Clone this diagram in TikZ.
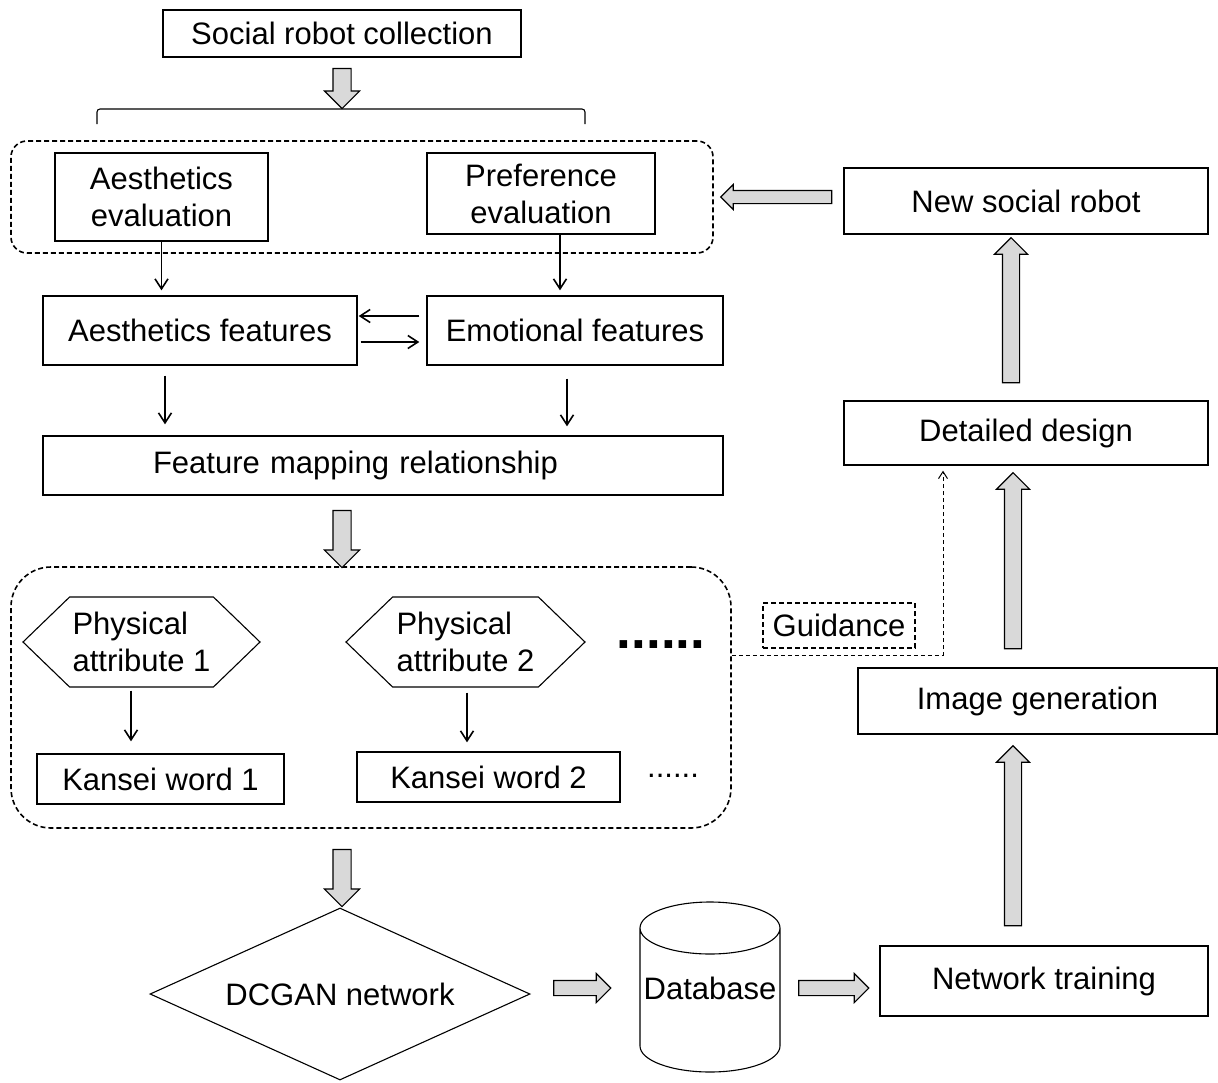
\documentclass[tikz,border=0pt]{standalone}
\usepackage{fontspec}
\setmainfont{Liberation Sans}
\usetikzlibrary{shapes.geometric,shapes.symbols,shapes.arrows,arrows.meta}

\begin{document}
\begin{tikzpicture}[x=1pt,y=-1pt,
    every node/.style={font=\fontsize{31}{37}\selectfont},
    box/.style={draw, line width=1.4pt, inner sep=0pt, align=center},
    grp/.style={draw, line width=1.6pt, dash pattern=on 5pt off 3pt, inner sep=0pt},
    hexa/.style={signal, signal to=west and east, signal pointer angle=88, draw, line width=1.1pt, inner sep=0pt, align=left},
    flow/.style={line width=1.6pt, -{Straight Barb[length=10pt,width=13pt]}},
    guide/.style={line width=1pt, dash pattern=on 4pt off 3pt, -{Straight Barb[length=7pt,width=9pt]}},
    garrow/.style 2 args={single arrow, draw, line width=1.1pt, fill=gray!30, inner xsep=0pt, inner ysep=#1,
        single arrow head extend=#1, single arrow head indent=0pt, minimum width=0pt, minimum height=#2},
    dbend/.style={x radius=70pt, y radius=26pt}]
    \useasboundingbox (0,0) rectangle (1218,1082);

    % dashed groups
    \node[grp, rounded corners=16pt, minimum width=702pt, minimum height=112pt] (eval) at (362,197) {};
    \node[grp, rounded corners=40pt, minimum width=720pt, minimum height=261pt] (attr) at (371,697.5) {};

    % left column
    \node[box, minimum width=358pt, minimum height=47pt] (src) at (342,33.5) {Social robot collection};
    \draw[line width=1.1pt, rounded corners=3pt] (97,124) -- (97,109) -- (585,109) -- (585,124);
    \node[box, minimum width=213pt, minimum height=88pt] (ae) at (161.5,197) {Aesthetics\\evaluation};
    \node[box, minimum width=228pt, minimum height=81pt] (pe) at (541,193.5) {Preference\\evaluation};
    \node[box, minimum width=314pt, minimum height=69pt] (af) at (200,330.5) {Aesthetics features};
    \node[box, minimum width=296pt, minimum height=69pt] (ef) at (575,330.5) {Emotional features};
    \node[box, align=left, text width=460pt, inner xsep=110pt, minimum height=59pt] (fm) at (383,465.5) {Feature mapping relationship};

    \node[hexa, minimum width=237pt, minimum height=90pt] (pa1) at (141.5,642) {Physical\\attribute 1};
    \node[hexa, minimum width=239pt, minimum height=90pt] (pa2) at (465.5,642) {Physical\\attribute 2};
    \node[font=\fontsize{53}{53}\selectfont\bfseries] (more1) at (661,645) {......};
    \node[box, minimum width=247pt, minimum height=50pt] (kw1) at (160.5,779) {Kansei word 1};
    \node[box, minimum width=263pt, minimum height=50pt] (kw2) at (488.5,777) {Kansei word 2};
    \node (more2) at (673,776) {......};

    \node[diamond, draw, line width=1.1pt, aspect=2.2, inner sep=0pt, minimum width=380pt, minimum height=172pt] (gan) at (340,994) {DCGAN network};

    % database drum
    \draw[line width=1.1pt] (640,928) arc[start angle=180, end angle=360, dbend] -- (780,1046)
        arc[start angle=0, end angle=-180, dbend] -- cycle;
    \draw[line width=1.1pt] (640,928) arc[start angle=180, end angle=0, dbend];
    \node (db) at (710,988) {Database};

    % right column
    \node[box, minimum width=364pt, minimum height=66pt] (nsr) at (1026,201) {New social robot};
    \node[box, minimum width=364pt, minimum height=64pt] (dd) at (1026,433) {Detailed design};
    \node[draw, line width=1.6pt, dash pattern=on 5pt off 3pt, inner sep=0pt, minimum width=152pt, minimum height=45pt] (gd) at (839,625.5) {Guidance};
    \node[box, minimum width=359pt, minimum height=66pt] (ig) at (1037.5,701) {Image generation};
    \node[box, minimum width=328pt, minimum height=70pt] (nt) at (1044,981) {Network training};

    % block arrows
    \node[garrow={8.5pt}{40pt}, rotate=-90] (a1) at (342,84) {};
    \node[garrow={8.5pt}{57pt}, rotate=-90] (a2) at (342,534.5) {};
    \node[garrow={8.5pt}{57pt}, rotate=-90] (a3) at (342,873.5) {};
    \node[garrow={7pt}{57pt}] (a4) at (578.5,988) {};
    \node[garrow={7pt}{70pt}] (a5) at (830,988) {};
    \node[garrow={8pt}{180pt}, rotate=90] (a6) at (1013,840) {};
    \node[garrow={8pt}{176pt}, rotate=90] (a7) at (1013,565) {};
    \node[garrow={8pt}{145pt}, rotate=90] (a8) at (1011,314.5) {};
    \node[garrow={6pt}{111pt}, rotate=180] (a9) at (779.5,197) {};

    % thin arrows
    \draw[flow, shorten >=5pt] (ae.south) -- (ae.south |- af.north);
    \draw[flow, shorten >=5pt] ([xshift=19pt]pe.south) -- ([xshift=19pt]pe.south |- ef.north);
    \draw[flow, shorten <=7pt, shorten >=1pt] ([yshift=14.5pt]ef.west) -- ([yshift=14.5pt]ef.west -| af.east);
    \draw[flow, shorten <=3pt, shorten >=7pt] ([yshift=-11.5pt]af.east) -- ([yshift=-11.5pt]af.east -| ef.west);
    \draw[flow, shorten <=10pt, shorten >=11pt] ([xshift=-35pt]af.south) -- ([xshift=-35pt]af.south |- fm.north);
    \draw[flow, shorten <=13pt, shorten >=9pt] ([xshift=-8pt]ef.south) -- ([xshift=-8pt]ef.south |- fm.north);
    \draw[flow, shorten <=3pt, shorten >=12pt] ([xshift=-10.5pt]pa1.south) -- ([xshift=-10.5pt]pa1.south |- kw1.north);
    \draw[flow, shorten <=5pt, shorten >=9pt] ([xshift=1.5pt]pa2.south) -- ([xshift=1.5pt]pa2.south |- kw2.north);

    % guidance link
    \coordinate (gturn) at (943,655);
    \draw[guide, shorten >=5pt] (attr.east |- gturn) -- (gturn) -- (gturn |- dd.south);
\end{tikzpicture}
\end{document}
